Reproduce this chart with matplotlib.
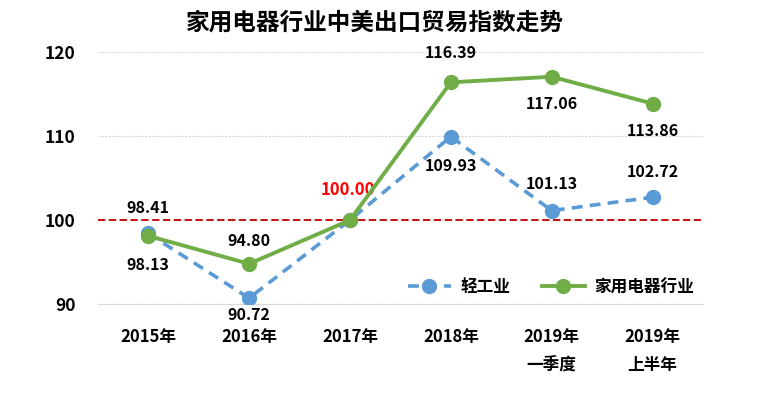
import matplotlib
matplotlib.use("Agg")
import matplotlib.pyplot as plt

plt.rcParams["font.family"] = ["Noto Sans CJK SC", "DejaVu Sans"]

categories = ["2015年", "2016年", "2017年", "2018年", "2019年\n一季度", "2019年\n上半年"]
light_industry = [98.41, 90.72, 100.00, 109.93, 101.13, 102.72]
appliances = [98.13, 94.80, 100.00, 116.39, 117.06, 113.86]
y_ticks = [90, 100, 110, 120]

# label offsets in points (dx, dy); None -> shared 100.00 label drawn separately
blue_offsets = [(0, 18), (0, -12), None, (0, -21), (0, 19.5), (0, 18)]
green_offsets = [(0, -21), (0, 16.5), None, (0, 21), (0, -19.5), (0, -20)]

BLUE = "#5B9BD5"
GREEN = "#70AD47"
RED = "#C00000"

fig = plt.figure(figsize=(7.7, 3.94), dpi=100)
ax = fig.add_axes([0.127, 0.228, 0.786, 0.64])

x = list(range(len(categories)))
ax.plot(x, light_industry, color=BLUE, linestyle=(0, (3, 2)), linewidth=2.6,
        marker="o", markersize=10, label="轻工业", zorder=3)
ax.plot(x, appliances, color=GREEN, linewidth=2.8,
        marker="o", markersize=10, label="家用电器行业", zorder=4)
ax.axhline(100, color=RED, linestyle=(0, (4, 2)), linewidth=1.3, zorder=2)

for vals, offsets in [(light_industry, blue_offsets), (appliances, green_offsets)]:
    for i, v in enumerate(vals):
        if offsets[i] is None:
            continue
        ax.annotate(f"{v:.2f}", (i, v), xytext=offsets[i], textcoords="offset points",
                    ha="center", va="center", fontsize=11.5, fontweight="bold")
ax.annotate(f"{appliances[2]:.2f}", (2, appliances[2]), xytext=(-1.5, 21.5),
            textcoords="offset points", ha="center", va="center",
            fontsize=12, fontweight="bold", color="#FF0000")

ax.set_xlim(-0.5, len(categories) - 0.5)
ax.set_ylim(90, 120)
ax.set_yticks(y_ticks)
ax.set_xticks(x)
ax.set_xticklabels(categories, fontsize=12, fontweight="bold", linespacing=1.74, va="top")
for lbl in ax.get_yticklabels():
    lbl.set_fontsize(12.5)
    lbl.set_fontweight("bold")
ax.tick_params(axis="y", length=0, pad=16)
ax.tick_params(axis="x", length=0, pad=17)

ax.grid(axis="y", color="#D9D9D9", linestyle=(0, (2, 1)), linewidth=0.8)
for side in ["top", "right", "left"]:
    ax.spines[side].set_visible(False)
ax.spines["bottom"].set_color("#D9D9D9")

ax.legend(loc="center right", bbox_to_anchor=(0.985, 0.067), ncol=2, frameon=False,
          prop={"size": 12, "weight": "bold"}, handlelength=2.6, handletextpad=0.55,
          columnspacing=1.9, borderpad=0, borderaxespad=0)

fig.text(0.487, 0.944, "家用电器行业中美出口贸易指数走势", ha="center", va="center",
         fontsize=17, fontweight="heavy")

fig.savefig("out.png", dpi=100)
